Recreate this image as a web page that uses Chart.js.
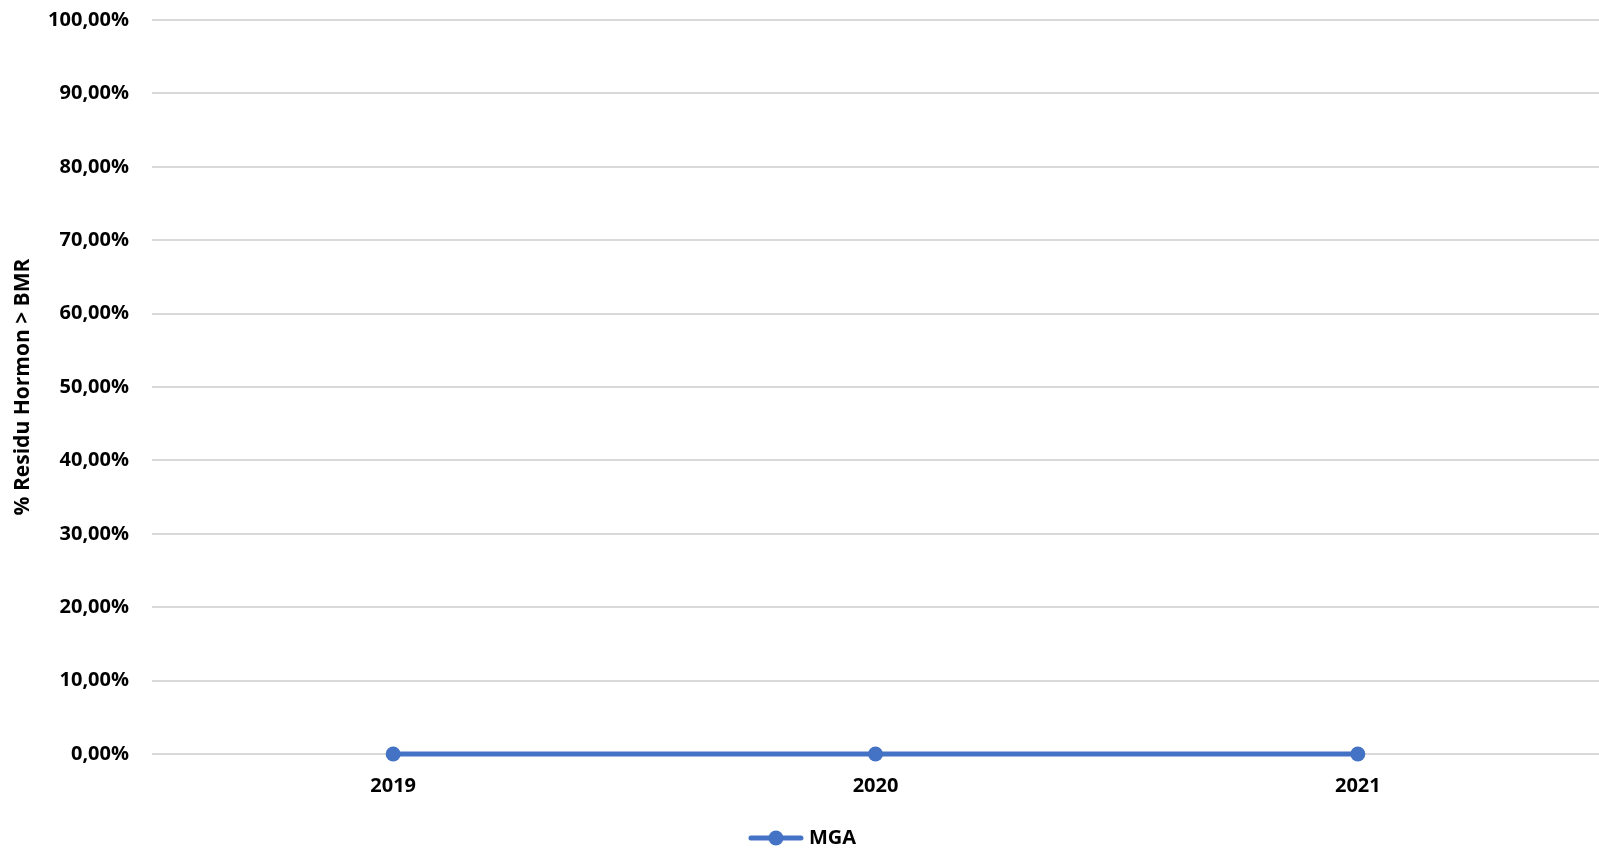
<!DOCTYPE html>
<html>
<head>
<meta charset="utf-8">
<script src="https://cdn.jsdelivr.net/npm/chart.js@4/dist/chart.umd.min.js"></script>
<style>
html,body{margin:0;padding:0;background:#fff;}
#wrap{width:1599px;height:848px;position:relative;}
</style>
</head>
<body>
<div id="wrap"><canvas id="c" width="1599" height="848"></canvas></div>
<script>
const categories = ['2019', '2020', '2021'];
const seriesName = 'MGA';
const mgaValues = [0, 0, 0];
const yTickValues = [0, 10, 20, 30, 40, 50, 60, 70, 80, 90, 100];
const yTitle = '% Residu Hormon > BMR';

const BLUE = '#4472C4';
const FONT = "'Open Sans', 'Noto Sans', sans-serif";

// legend symbol: line with circle marker
const sym = document.createElement('canvas');
sym.width = 56; sym.height = 18;
(function(){
  const g = sym.getContext('2d');
  g.strokeStyle = BLUE; g.lineWidth = 5; g.lineCap = 'round';
  g.beginPath(); g.moveTo(3, 9); g.lineTo(53, 9); g.stroke();
  g.fillStyle = BLUE; g.beginPath(); g.arc(28, 9, 7.5, 0, Math.PI * 2); g.fill();
})();

Chart.defaults.font.family = FONT;
Chart.defaults.font.weight = 'bold';
Chart.defaults.color = '#000';

new Chart(document.getElementById('c'), {
  type: 'line',
  data: {
    labels: categories,
    datasets: [{
      label: seriesName,
      data: mgaValues,
      borderColor: BLUE,
      backgroundColor: BLUE,
      borderWidth: 5,
      pointStyle: 'circle',
      pointRadius: 7.5,
      pointHoverRadius: 7.5,
      pointBackgroundColor: BLUE,
      pointBorderColor: BLUE,
      pointBorderWidth: 0,
      tension: 0,
      clip: false
    }]
  },
  options: {
    responsive: false,
    animation: false,
    devicePixelRatio: 1,
    layout: { autoPadding: false, padding: { top: 20, right: 0, left: 10, bottom: -10 } },
    plugins: {
      legend: {
        position: 'bottom',
        labels: {
          usePointStyle: true,
          pointStyle: sym,
          pointStyleWidth: 46,
          font: { size: 20, weight: 'bold', family: FONT },
          color: '#000',
          padding: 0,
          boxWidth: 46
        }
      },
      tooltip: { enabled: false }
    },
    scales: {
      x: {
        offset: true,
        grid: { display: false, drawTicks: false },
        border: { display: false },
        ticks: { padding: 20, font: { size: 20, weight: 'bold' }, color: '#000', maxRotation: 0 },
        afterFit: (s) => { s.height = 74; s.paddingLeft = 0; s.paddingRight = 0; }
      },
      y: {
        min: 0, max: 100,
        afterBuildTicks: (s) => { s.ticks = yTickValues.map(v => ({ value: v })); },
        grid: { color: '#d9d9d9', lineWidth: 2, drawTicks: false },
        border: { display: false },
        ticks: {
          padding: 23,
          font: { size: 20, weight: 'bold' },
          color: '#000',
          callback: (v) => v.toFixed(2).replace('.', ',') + '%'
        },
        title: {
          display: true,
          text: yTitle,
          font: { size: 21, weight: 'bold' },
          color: '#000',
          padding: { top: 0, bottom: 0 }
        },
        afterFit: (s) => { s.width = 142; s.paddingTop = 0; s.paddingBottom = 0; }
      }
    }
  }
});
</script>
</body>
</html>
